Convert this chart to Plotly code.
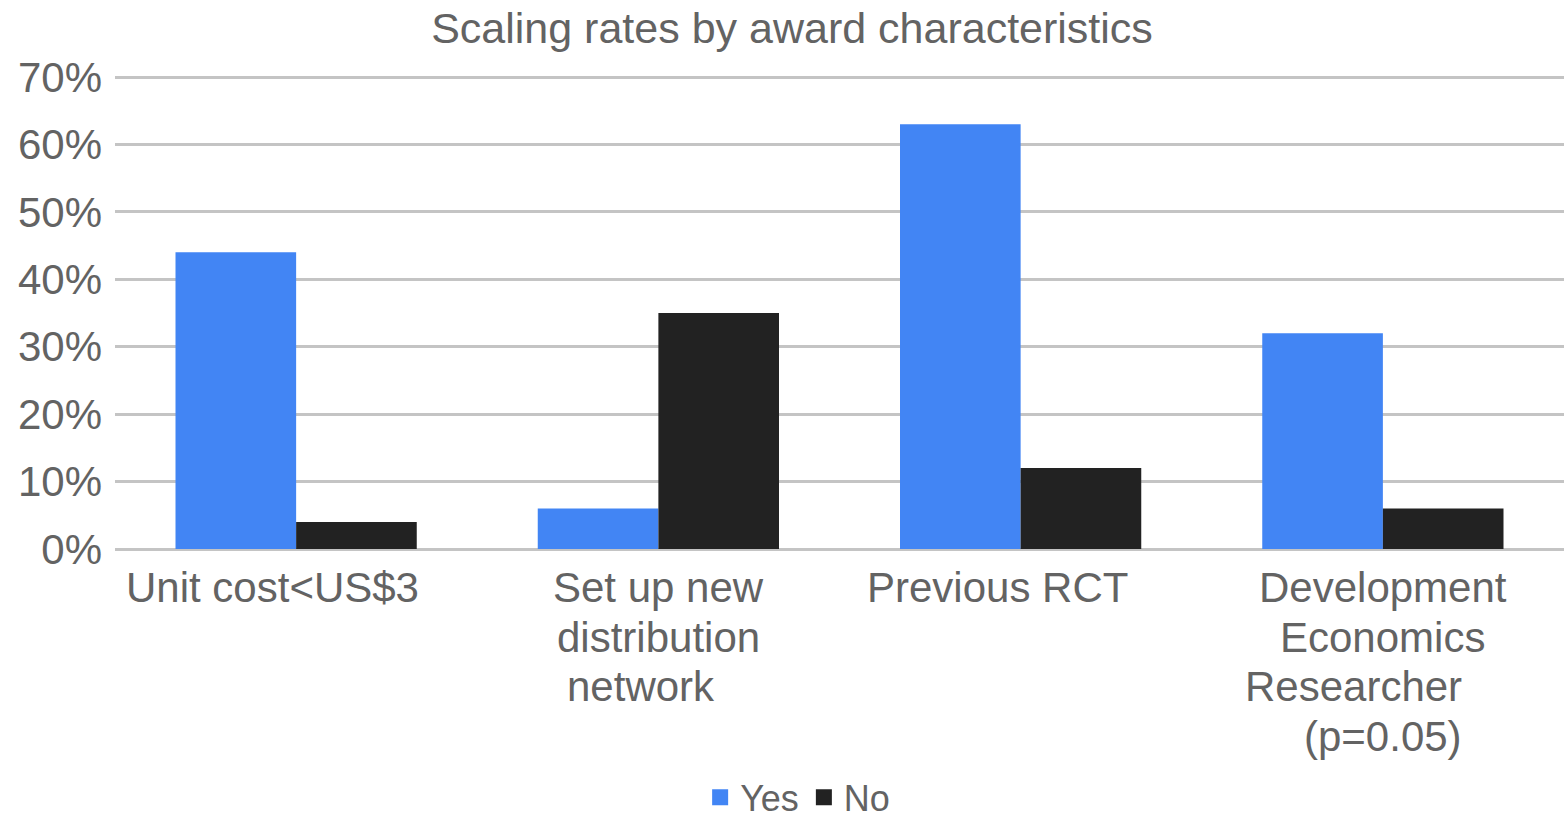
import plotly.graph_objects as go

categories = ["Unit cost<US$3", "Set up new distribution network", "Previous RCT",
              "Development Economics Researcher (p=0.05)"]
# category labels as wrapped in the original (trailing spaces kept as in the source chart)
NB = "\u00a0"
tick_label_lines = [
    ["Unit cost<US$3" + NB * 4],
    ["Set up new", "distribution", "network" + NB * 3],
    ["Previous RCT" + NB * 4],
    ["Development", "Economics", "Researcher" + NB * 5, "(p=0.05)"],
]
yes_values = [0.44, 0.06, 0.63, 0.32]
no_values = [0.04, 0.35, 0.12, 0.06]
series_names = ["Yes", "No"]
series_colors = ["#4285F4", "#222222"]

TEXT = "#636363"
FONT = "Liberation Sans, Arial, sans-serif"
LABEL_SIZE = 42
LINE_STEP = 49.5
FIRST_LINE_OFFSET = 13

fig = go.Figure()
for name, vals, col in zip(series_names, [yes_values, no_values], series_colors):
    fig.add_trace(go.Bar(name=name, x=categories, y=vals, marker_color=col,
                         marker_line_width=0, showlegend=False, legendgroup=name))
    # legend entry with a larger square swatch
    fig.add_trace(go.Scatter(name=name, x=[None], y=[None], mode="markers",
                             marker=dict(symbol="square", size=16, color=col, line_width=0),
                             legendgroup=name, showlegend=True))

annotations = []
for cat, lines in zip(categories, tick_label_lines):
    for i, line in enumerate(lines):
        annotations.append(dict(
            x=cat, xref="x", y=0, yref="paper", yanchor="top", xanchor="center",
            yshift=-(FIRST_LINE_OFFSET + LINE_STEP * i), text=line, showarrow=False,
            font=dict(size=LABEL_SIZE, color=TEXT, family=FONT)))

fig.update_layout(
    width=1564, height=822,
    margin=dict(l=115, r=0, t=76, b=273),
    paper_bgcolor="white", plot_bgcolor="white",
    font=dict(family=FONT, color=TEXT),
    barmode="group", bargap=0.334, bargroupgap=0,
    title=dict(text="Scaling rates by award characteristics", x=0.5064, xref="container",
               xanchor="center", y=0.966, yref="container", yanchor="middle",
               font=dict(size=43, color=TEXT, family=FONT)),
    legend=dict(orientation="h", x=0.51, xref="container", xanchor="center",
                y=0.03, yref="container", yanchor="middle",
                font=dict(size=36, color=TEXT, family=FONT),
                itemwidth=30, traceorder="normal", tracegroupgap=0),
    annotations=annotations,
    xaxis=dict(showticklabels=False, showgrid=False, showline=False, ticks=""),
    yaxis=dict(range=[0, 0.7015], tickvals=[0, 0.1, 0.2, 0.3, 0.4, 0.5, 0.6, 0.7],
               tickformat=".0%",
               tickfont=dict(size=42, color=TEXT, family=FONT),
               gridcolor="#c4c4c4", gridwidth=3,
               zeroline=True, zerolinecolor="#c4c4c4", zerolinewidth=3,
               showline=False, ticks="", ticklabelstandoff=12),
)

fig.write_html("out.html")
